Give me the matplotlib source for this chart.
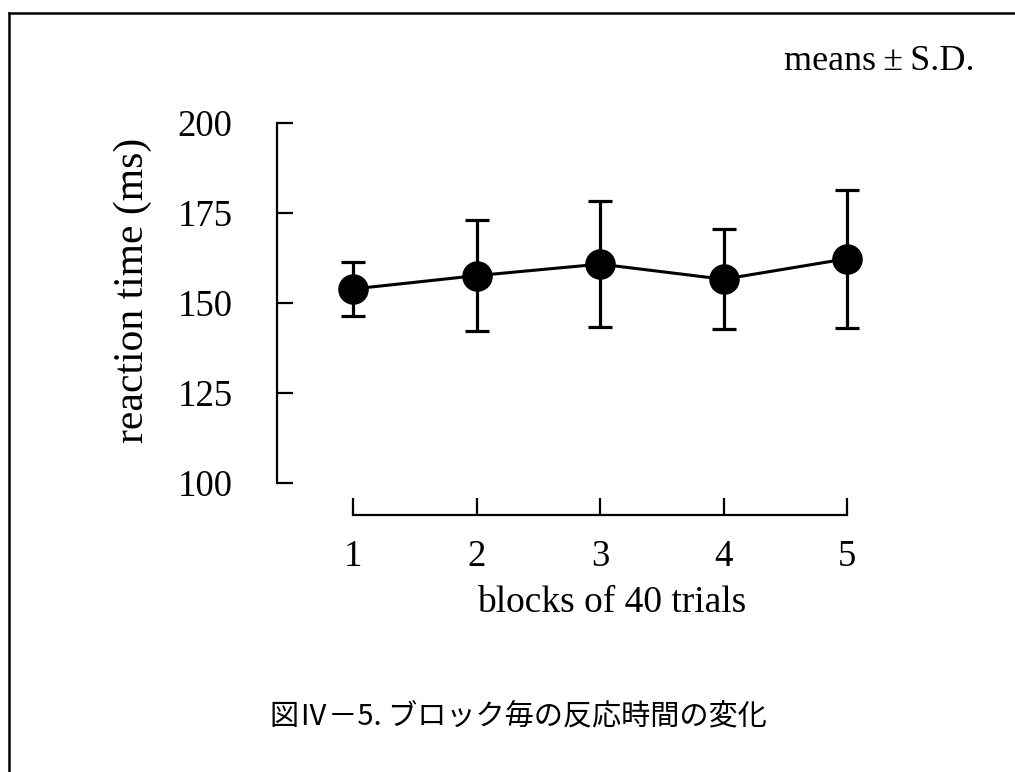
import matplotlib.pyplot as plt
from matplotlib.lines import Line2D

# data
blocks = [1, 2, 3, 4, 5]
rt_mean = [153.9, 157.6, 160.8, 156.6, 162.3]
rt_sd = [7.6, 15.4, 17.4, 13.9, 19.2]
yticks = [100, 125, 150, 175, 200]

W, H = 1015, 772
serif = ['Liberation Serif', 'DejaVu Serif']
jp = ['Noto Sans CJK JP', 'DejaVu Sans']

fig = plt.figure(figsize=(W / 100, H / 100), dpi=100)

# axes box in pixels: y spine at x=277, 100..200 between y=483 and y=123
px_left, px_right = 277, 880
px_top, px_bottom = 123, 483
x1_px, x5_px = 353, 847
unit = (x5_px - x1_px) / 4
xmin = 1 - (x1_px - px_left) / unit
xmax = 5 + (px_right - x5_px) / unit

ax = fig.add_axes([px_left / W, 1 - px_bottom / H,
                   (px_right - px_left) / W, (px_bottom - px_top) / H])

ax.errorbar(blocks, rt_mean, yerr=rt_sd, color='black', lw=2.2,
            marker='o', markersize=21, capsize=8.5, capthick=2.3,
            elinewidth=2.3)

ax.set_xlim(xmin, xmax)
ax.set_ylim(100, 200)
ax.set_xticks(blocks)
ax.set_yticks(yticks)

for s in ['top', 'right']:
    ax.spines[s].set_visible(False)
ax.spines['left'].set_bounds(100, 200)
ax.spines['bottom'].set_bounds(1, 5)
ax.spines['bottom'].set_position(('outward', 23))
for s in ['left', 'bottom']:
    ax.spines[s].set_linewidth(1.6)

ax.tick_params(axis='y', direction='in', length=11.5, width=1.6, pad=32)
ax.tick_params(axis='x', direction='in', length=12, width=1.6, pad=18)
for lab in ax.get_xticklabels() + ax.get_yticklabels():
    lab.set_family(serif)
    lab.set_fontsize(26.5)

# axis labels
fig.text(612 / W, 1 - 603 / H, 'blocks of 40 trials', family=serif,
         fontsize=27, ha='center', va='center')
fig.text(133 / W, 1 - 290 / H, 'reaction time (ms)', family=serif,
         fontsize=30, ha='center', va='center', rotation=90)

fig.text(975 / W, 1 - 62 / H, 'means\u2009±\u2009S.D.', family=serif,
         fontsize=26, ha='right', va='center')

fig.text(518 / W, 1 - 716 / H, '図Ⅳ－5. ブロック毎の反応時間の変化',
         family=jp, fontsize=21, ha='center', va='center')

# page frame (left and top edges)
fig.add_artist(Line2D([9 / W, 9 / W], [0, 1 - 13 / H], color='black', lw=1.8))
fig.add_artist(Line2D([9 / W, 1], [1 - 13 / H, 1 - 13 / H], color='black', lw=1.8))

fig.savefig('out.png', dpi=100)
